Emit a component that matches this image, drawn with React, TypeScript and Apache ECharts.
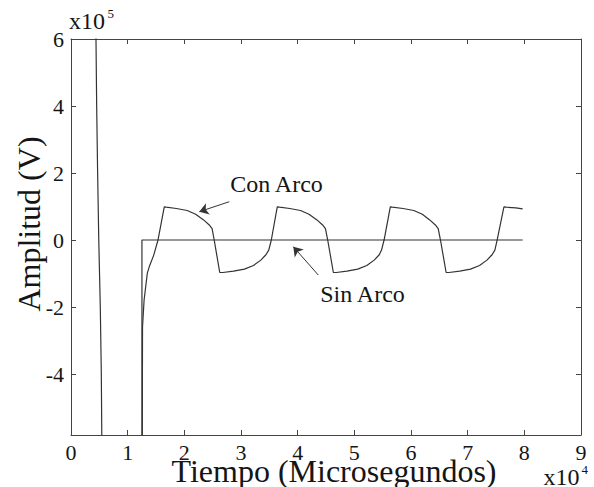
import React, { useEffect, useRef } from "react";
import * as echarts from "echarts";

// x in units of 1e4 microseconds, y in units of 1e5 V
const xTicks = [0, 1, 2, 3, 4, 5, 6, 7, 8, 9];
const yTicks = [-4, -2, 0, 2, 4, 6];

const transientX = [0.44, 0.441, 0.453, 0.47, 0.49, 0.517, 0.535, 0.545];
const transientY = [6.5, 6.0, 4.0, 2.0, 0.0, -2.0, -4.0, -6.2];

const sinArcoX = [1.252, 1.252, 7.97];
const sinArcoY = [-6.2, 0, 0];

const conArcoX = [
  1.258, 1.262, 1.29, 1.347, 1.381, 1.46, 1.535, 1.646,
  1.68, 1.86, 2.05, 2.2, 2.34, 2.44, 2.49, 2.527, 2.625,
  2.68, 2.87, 3.06, 3.22, 3.35, 3.44, 3.49, 3.535, 3.64,
  3.68, 3.86, 4.05, 4.2, 4.34, 4.44, 4.49, 4.53, 4.63,
  4.68, 4.87, 5.06, 5.22, 5.35, 5.44, 5.48, 5.525, 5.635,
  5.67, 5.86, 6.05, 6.2, 6.33, 6.43, 6.48, 6.52, 6.62,
  6.67, 6.86, 7.05, 7.21, 7.34, 7.43, 7.48, 7.52, 7.64,
  7.68, 7.85, 7.97,
];
const conArcoY = [
  -6.2, -2.6, -1.79, -0.99, -0.8, -0.45, 0, 0.99,
  0.98, 0.94, 0.88, 0.77, 0.6, 0.45, 0.34, 0, -0.97,
  -0.97, -0.93, -0.87, -0.76, -0.6, -0.44, -0.3, 0, 0.99,
  0.98, 0.94, 0.88, 0.77, 0.6, 0.45, 0.34, 0, -0.97,
  -0.97, -0.93, -0.87, -0.76, -0.6, -0.44, -0.3, 0, 0.99,
  0.98, 0.94, 0.88, 0.77, 0.6, 0.45, 0.34, 0, -0.97,
  -0.97, -0.93, -0.87, -0.76, -0.6, -0.44, -0.3, 0, 0.99,
  0.98, 0.96, 0.93,
];

const conArcoArrow = [[2.793, 1.143], [2.264, 0.845]];
const sinArcoArrow = [[4.364, -1.045], [3.923, -0.2]];

const FONT = "Liberation Serif";
const INK = "#151515";
const LINE = "#333333";

const zip = (xs: number[], ys: number[]) => xs.map((x, i) => [x, ys[i]]);

const txt = (
  x: number,
  y: number,
  text: string,
  size: number,
  align = "left",
  rotation = 0,
  lineHeight?: number
) => ({
  type: "text",
  x,
  y,
  rotation,
  style: {
    text,
    fontFamily: FONT,
    fontSize: size,
    fill: INK,
    align,
    verticalAlign: "middle",
    lineHeight: lineHeight ?? Math.round(size * 1.1),
  },
});

export default function App() {
  const ref = useRef<HTMLDivElement>(null);
  useEffect(() => {
    if (!ref.current) return;
    const chart = echarts.init(ref.current, undefined, { renderer: "svg" });
    const baseX = {
      type: "value" as const,
      min: 0,
      max: 9,
      interval: 1,
      splitLine: { show: false },
      axisLine: { show: true, onZero: false, lineStyle: { color: "#444", width: 1 } },
      axisTick: { show: true, inside: true, length: 5, lineStyle: { color: "#444" } },
    };
    const baseY = {
      type: "value" as const,
      min: -5.82,
      max: 6,
      splitLine: { show: false },
      axisLine: { show: true, onZero: false, lineStyle: { color: "#444", width: 1 } },
      axisTick: {
        show: true,
        inside: true,
        length: 5,
        customValues: yTicks,
        lineStyle: { color: "#444" },
      },
    };
    chart.setOption({
      animation: false,
      textStyle: { fontFamily: FONT },
      grid: { left: 71, right: 13, top: 39, bottom: 52, containLabel: false },
      xAxis: [
        {
          ...baseX,
          position: "bottom",
          axisLabel: {
            show: true,
            margin: 10,
            fontFamily: FONT,
            fontSize: 22,
            lineHeight: 14,
            color: INK,
            customValues: xTicks,
          },
        },
        { ...baseX, position: "top", axisLabel: { show: false } },
      ],
      yAxis: [
        {
          ...baseY,
          position: "left",
          axisLabel: {
            show: true,
            margin: 7,
            fontFamily: FONT,
            fontSize: 22,
            lineHeight: 16,
            color: INK,
            customValues: yTicks,
          },
        },
        { ...baseY, position: "right", axisLabel: { show: false } },
      ],
      series: [
        {
          name: "Transitorio",
          type: "line",
          data: zip(transientX, transientY),
          showSymbol: false,
          symbol: "none",
          lineStyle: { color: LINE, width: 1.2 },
          clip: true,
        },
        {
          name: "Sin Arco",
          type: "line",
          data: zip(sinArcoX, sinArcoY),
          showSymbol: false,
          symbol: "none",
          lineStyle: { color: LINE, width: 1.2 },
          clip: true,
          markLine: {
            silent: true,
            symbol: ["none", "arrow"],
            symbolSize: 9,
            label: { show: false },
            lineStyle: { color: LINE, width: 1, type: "solid" },
            data: [
              [{ coord: conArcoArrow[0] }, { coord: conArcoArrow[1] }],
              [{ coord: sinArcoArrow[0] }, { coord: sinArcoArrow[1] }],
            ],
          },
        },
        {
          name: "Con Arco",
          type: "line",
          data: zip(conArcoX, conArcoY),
          showSymbol: false,
          symbol: "none",
          lineStyle: { color: LINE, width: 1.2 },
          clip: true,
        },
      ],
      graphic: [
        txt(334, 470.5, "Tiempo (Microsegundos)", 32, "center", 0, 20),
        txt(29, 224, "Amplitud (V)", 32, "center", Math.PI / 2, 24),
        txt(69, 20.5, "x10", 24, "left", 0, 18),
        txt(107.5, 13, "5", 13, "left", 0, 10),
        txt(579.5, 476.5, "x10", 24, "right", 0, 18),
        txt(581.5, 469, "4", 13, "left", 0, 10),
        txt(276.5, 183.5, "Con Arco", 24, "center"),
        txt(362.5, 293.5, "Sin Arco", 24, "center"),
      ],
    });
    return () => chart.dispose();
  }, []);
  return (
    <div
      ref={ref}
      style={{ position: "fixed", left: 0, top: 0, width: 594, height: 487, background: "#fff" }}
    />
  );
}
